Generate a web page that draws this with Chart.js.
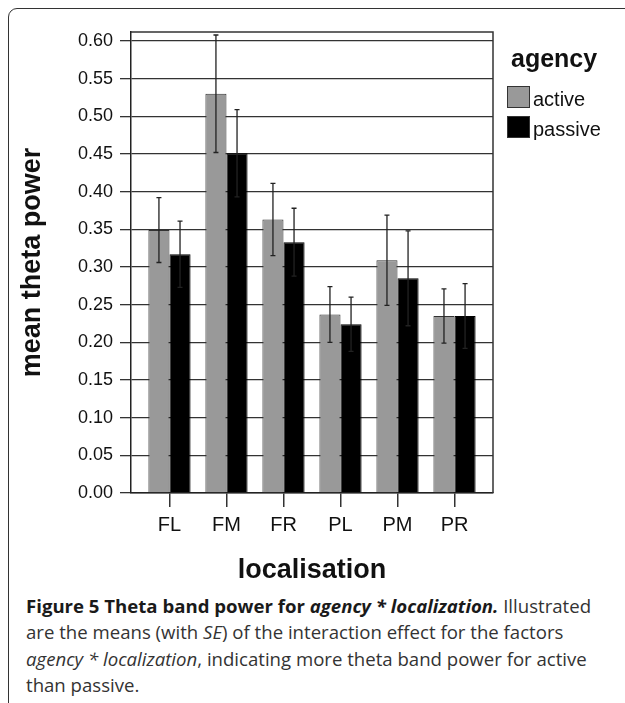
<!DOCTYPE html>
<html>
<head>
<meta charset="utf-8">
<script src="https://cdn.jsdelivr.net/npm/chart.js@4.4.1/dist/chart.umd.min.js"></script>
<style>
  body { margin: 0; background: #fff; }
  #wrap { position: relative; width: 625px; height: 703px; overflow: hidden; }
  #frame { position: absolute; left: 8px; top: 8px; width: 640px; height: 720px;
           border: 1.6px solid #333; border-radius: 9px; }
  #chart { position: absolute; left: 0; top: 0; }
  #caption { position: absolute; left: 26px; top: 593px; width: 600px; white-space: nowrap;
             font-family: "Open Sans", sans-serif; font-size: 18.6px; line-height: 26.3px; color: #333; }
  #caption b { color: #1a1a1a; }
</style>
</head>
<body>
<div id="wrap">
  <div id="frame"></div>
  <canvas id="chart" width="625" height="590"></canvas>
  <div id="caption"><b>Figure 5 Theta band power for <i>agency * localization.</i></b> Illustrated<br>are the means (with <i>SE</i>) of the interaction effect for the factors<br><i>agency * localization</i>, indicating more theta band power for active<br>than passive.</div>
</div>
<script>
const categorias = ["FL", "FM", "FR", "PL", "PM", "PR"];
const activeMean  = [0.349, 0.530, 0.363, 0.237, 0.309, 0.235];
const passiveMean = [0.317, 0.451, 0.333, 0.224, 0.285, 0.235];
const activeSE  = [0.043, 0.078, 0.048, 0.037, 0.060, 0.036];
const passiveSE = [0.044, 0.058, 0.045, 0.036, 0.063, 0.043];

const FONT = "'Liberation Sans', Arial, sans-serif";

// barras de error (SE) dibujadas sobre cada barra
const errorBars = {
  id: "errorBars",
  afterDatasetsDraw(chart) {
    const ctx = chart.ctx;
    const y = chart.scales.y;
    ctx.save();
    ctx.strokeStyle = "#222";
    ctx.lineWidth = 1.3;
    chart.data.datasets.forEach((ds, i) => {
      const meta = chart.getDatasetMeta(i);
      meta.data.forEach((bar, j) => {
        const v = ds.data[j].y, e = ds.se[j];
        const yt = y.getPixelForValue(v + e);
        const yb = y.getPixelForValue(v - e);
        ctx.beginPath();
        ctx.moveTo(bar.x, yt); ctx.lineTo(bar.x, yb);
        ctx.moveTo(bar.x - 2.5, yt); ctx.lineTo(bar.x + 2.5, yt);
        ctx.moveTo(bar.x - 2.5, yb); ctx.lineTo(bar.x + 2.5, yb);
        ctx.stroke();
      });
    });
    ctx.restore();
  }
};

// marco superior y derecho + leyenda
const marco = {
  id: "marco",
  afterDraw(chart) {
    const ctx = chart.ctx;
    const a = chart.chartArea;
    ctx.save();
    ctx.strokeStyle = "#333";
    ctx.lineWidth = 1.5;
    ctx.beginPath();
    ctx.moveTo(a.left, a.top); ctx.lineTo(a.right, a.top); ctx.lineTo(a.right, a.bottom);
    ctx.stroke();

    ctx.fillStyle = "#111";
    ctx.font = "bold 25px " + FONT;
    ctx.textBaseline = "alphabetic";
    ctx.fillText("agency", 511, 67);
    ctx.font = "20px " + FONT;
    chart.data.datasets.forEach((ds, i) => {
      const top = 86 + i * 30;
      ctx.fillStyle = ds.backgroundColor;
      ctx.fillRect(507, top, 23, 22);
      ctx.strokeStyle = "#333";
      ctx.lineWidth = 1;
      ctx.strokeRect(507.5, top + 0.5, 22, 21);
      ctx.fillStyle = "#111";
      ctx.fillText(ds.label, 533, top + 20);
    });
    ctx.restore();
  }
};

new Chart(document.getElementById("chart"), {
  type: "bar",
  data: {
    datasets: [
      {
        label: "active",
        data: activeMean.map((v, i) => ({ x: i, y: v })),
        se: activeSE,
        backgroundColor: "#999999",
        borderColor: "#333",
        borderWidth: 1
      },
      {
        label: "passive",
        data: passiveMean.map((v, i) => ({ x: i, y: v })),
        se: passiveSE,
        backgroundColor: "#000000",
        borderColor: "#000",
        borderWidth: 1
      }
    ]
  },
  options: {
    responsive: false,
    animation: false,
    categoryPercentage: 0.74,
    barPercentage: 1,
    layout: { padding: { top: 32, right: 132, left: 0, bottom: 0 } },
    plugins: {
      legend: { display: false },
      tooltip: { enabled: false }
    },
    scales: {
      x: {
        type: "linear",
        offset: false,
        min: -0.675,
        max: 5.675,
        afterFit: s => { s.height = 97; },
        afterBuildTicks: s => { s.ticks = categorias.map((c, i) => ({ value: i })); },
        ticks: {
          autoSkip: false,
          maxRotation: 0,
          padding: 6,
          color: "#111",
          font: { family: FONT, size: 20 },
          callback: v => categorias[v] || ""
        },
        grid: { drawOnChartArea: false, offset: false, tickLength: 14, color: "#333", lineWidth: 1.5 },
        border: { color: "#222", width: 1.5 },
        title: {
          display: true,
          text: "localisation",
          color: "#111",
          font: { family: FONT, size: 27, weight: "bold" },
          padding: { top: 0, bottom: 3 }
        }
      },
      y: {
        min: 0,
        max: 0.612,
        afterFit: s => { s.width = 131; },
        ticks: {
          stepSize: 0.05,
          includeBounds: false,
          padding: 7,
          color: "#111",
          font: { family: FONT, size: 18 },
          callback: v => v.toFixed(2)
        },
        grid: { color: "#333", lineWidth: 1.3, tickLength: 11 },
        border: { color: "#222", width: 1.5 },
        title: {
          display: true,
          text: "mean theta power",
          color: "#111",
          font: { family: FONT, size: 27, weight: "bold" },
          padding: { top: 16, bottom: 0 }
        }
      }
    }
  },
  plugins: [errorBars, marco]
});
</script>
</body>
</html>
